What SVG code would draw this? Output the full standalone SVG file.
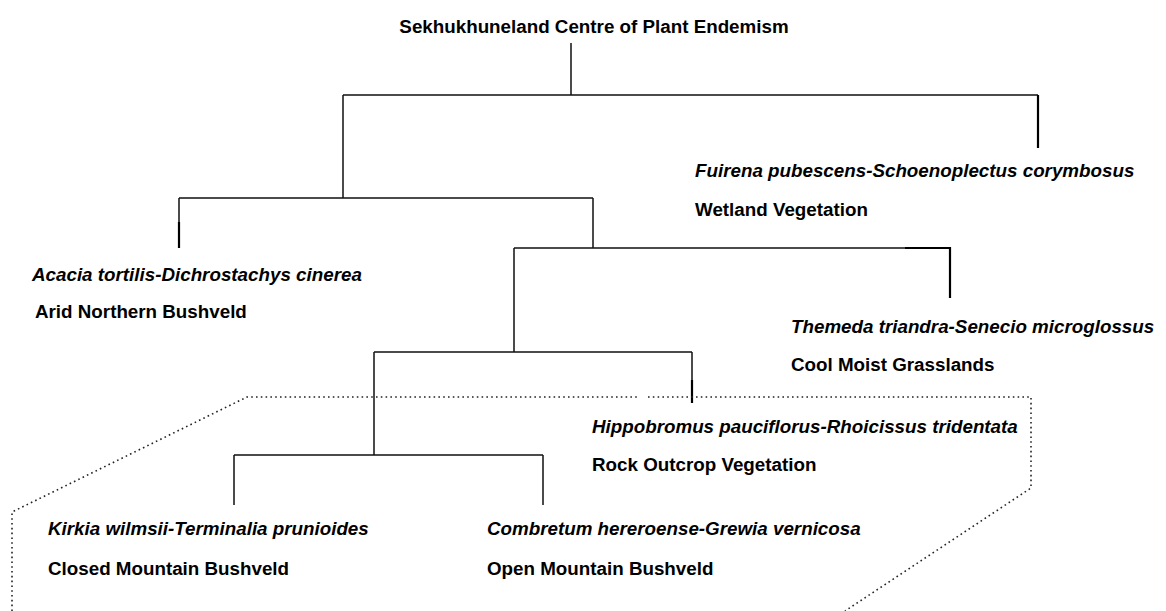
<svg xmlns="http://www.w3.org/2000/svg" width="1166" height="611" viewBox="0 0 1166 611">
<style>
text{font-family:"Liberation Sans",Arial,sans-serif;font-size:18.8px;font-weight:bold;fill:#000}
.sp{font-style:italic}
.ln{stroke:#111;stroke-width:1.5;fill:none}
.lnb{stroke:#000;stroke-width:2.2;fill:none}
.dot{stroke:#222;stroke-width:1.6;fill:none;stroke-dasharray:1.6 3.2}
</style>
<rect width="1166" height="611" fill="#fff"/>
<g id="connectors">
<path class="ln" d="M571,43V95M343,95H1038M343,95V198M179,198H593M179,198V222M593,198V248M514,248H905M514,248V352M374,352H692M692,352V380M374,352V455M234,455H543M234,455V505M543,455V505"/>
<path class="lnb" d="M1038,95V148M179,222V248M905,248H950V298M692,380V403"/>
</g>
<g id="root"><text x="594" y="33" text-anchor="middle">Sekhukhuneland Centre of Plant Endemism</text></g>
<g id="wetland"><text class="sp" x="695" y="177">Fuirena pubescens-Schoenoplectus corymbosus</text><text x="695" y="216">Wetland Vegetation</text></g>
<g id="arid"><text class="sp" x="32" y="281">Acacia tortilis-Dichrostachys cinerea</text><text x="35" y="318">Arid Northern Bushveld</text></g>
<g id="grassland"><text class="sp" x="791" y="333">Themeda triandra-Senecio microglossus</text><text x="791" y="371">Cool Moist Grasslands</text></g>
<g id="rock"><text class="sp" x="592" y="433">Hippobromus pauciflorus-Rhoicissus tridentata</text><text x="592" y="471">Rock Outcrop Vegetation</text></g>
<g id="closed"><text class="sp" x="48" y="535">Kirkia wilmsii-Terminalia prunioides</text><text x="48" y="575">Closed Mountain Bushveld</text></g>
<g id="open"><text class="sp" x="487" y="535">Combretum hereroense-Grewia vernicosa</text><text x="487" y="575">Open Mountain Bushveld</text></g>
<g id="mountain-group"><path class="dot" d="M12,611V512L247,397H637M648,397H1031V488L845,611"/></g>
</svg>
